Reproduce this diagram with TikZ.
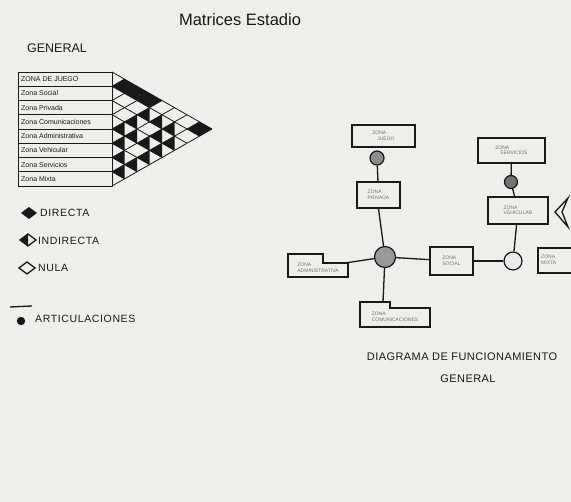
\documentclass[tikz,border=0pt]{standalone}
\usepackage{fontspec}
\setmainfont{Liberation Sans}
\definecolor{paper}{RGB}{238,238,237}
\definecolor{ink}{RGB}{25,25,25}
\begin{document}
\begin{tikzpicture}[x=1pt,y=-1pt,
  ln/.style={line width=1.3pt, draw=ink},
  grid/.style={line width=0.8pt, draw=ink},
  zbox/.style={draw=ink, line width=1.3pt, rectangle, inner sep=1pt,
    font=\fontsize{5}{5.5}\selectfont, align=left, text=black!55},
  ztext/.style={inner sep=0pt, font=\fontsize{5}{5.5}\selectfont, align=left, text=black!55},
  art/.style={circle, draw=ink, line width=1.2pt, inner sep=0pt},
  rowlab/.style={anchor=west, inner sep=0pt, font=\fontsize{7}{8}\selectfont, text=ink},
  leg/.style={anchor=west, inner sep=0pt, font=\fontsize{10.5}{11}\selectfont\addfontfeatures{LetterSpace=6}, text=ink},
  captxt/.style={inner sep=0pt, font=\fontsize{11}{12}\selectfont\addfontfeatures{LetterSpace=4}, text=ink}
]
\fill[paper] (0,0) rectangle (571,502);
\useasboundingbox (0,0) rectangle (571,502);

% title
\node[inner sep=0pt, font=\fontsize{16.5}{17}\selectfont, text=ink] (title) at (240,20) {Matrices Estadio};
\node[inner sep=0pt, font=\fontsize{12.5}{13}\selectfont, text=ink] (gen) at (57,48) {GENERAL};

% matrix table
\draw[grid] (18,72) rectangle (112,186);
\foreach \k in {1,...,7}{\draw[grid] (18,72+14.25*\k) -- (112,72+14.25*\k);}
\foreach \k/\t [count=\n] in {0/ZONA DE JUEGO,1/Zona Social,2/Zona Privada,3/Zona Comunicaciones,4/Zona Administrativa,5/Zona Vehicular,6/Zona Servicios,7/Zona Mixta}{
  \node[rowlab] (r\n) at (21,79.1+14.25*\k) {\t};
}
% filled cells
\foreach \d/\i in {1/1,2/1,3/1,7/1}{
  \pgfmathsetmacro\cx{112+12.5*\d}
  \pgfmathsetmacro\cy{72+14.25*(\i+(\d-1)/2)}
  \fill[ink] (\cx-12.5,\cy) -- (\cx,\cy-7.125) -- (\cx+12.5,\cy) -- (\cx,\cy+7.125) -- cycle;
}
\foreach \d/\i in {1/4,1/5,1/6,1/7,2/3,2/4,2/6,3/2,3/4,3/5,4/2,4/3,4/4,5/2,5/3}{
  \pgfmathsetmacro\cx{112+12.5*\d}
  \pgfmathsetmacro\cy{72+14.25*(\i+(\d-1)/2)}
  \fill[ink] (\cx-12.5,\cy) -- (\cx,\cy-7.125) -- (\cx,\cy+7.125) -- cycle;
}
\foreach \k in {0,...,8}{
  \draw[grid] (112,72+14.25*\k) -- ++(12.5*8-12.5*\k, 7.125*8-7.125*\k);
  \draw[grid] (112,72+14.25*\k) -- ++(12.5*\k, -7.125*\k);
}

% legend
\fill[ink] (21,213) -- (29,207) -- (37,213) -- (29,219) -- cycle;
\node[leg] (ld) at (40,213) {DIRECTA};
\draw[ln] (20,240) -- (28,234) -- (36,240) -- (28,246) -- cycle;
\fill[ink] (20,240) -- (28,234) -- (28,246) -- cycle;
\node[leg] (li) at (38,241) {INDIRECTA};
\draw[ln] (19,268) -- (27,262) -- (35,268) -- (27,274) -- cycle;
\node[leg] (lnul) at (38,268) {NULA};
\draw[ln] (10,307) -- (32,306);
\fill[ink] (21,321) circle (4.2);
\node[leg] (la) at (35,319) {ARTICULACIONES};

% functional diagram
\node[zbox, minimum width=63pt, minimum height=22pt] (juego) at (383.5,136) {ZONA\\\quad JUEGO};
\node[zbox, minimum width=43pt, minimum height=26pt] (privada) at (378.5,195) {ZONA\\PRIVADA};
\node[zbox, minimum width=43pt, minimum height=28pt] (social) at (451.5,261) {ZONA\\SOCIAL};
\node[zbox, minimum width=60pt, minimum height=27pt] (vehic) at (518,210.5) {ZONA\\VEHICULAR};
\node[zbox, minimum width=67pt, minimum height=25pt] (serv) at (511.5,150.5) {ZONA\\\quad SERVICIOS};

\draw[ln] (288,254) -- (323,254) -- (323,263) -- (348,263) -- (348,277) -- (288,277) -- cycle;
\node[ztext] (admin) at (318,268) {ZONA\\ADMINISTRATIVA};
\coordinate (adminR) at (345,263);
\draw[ln] (360,302) -- (390,302) -- (390,308) -- (430,308) -- (430,327) -- (360,327) -- cycle;
\node[ztext] (comun) at (395,317) {ZONA\\COMUNICACIONES};
\coordinate (comunT) at (383,302);
\draw[ln] (571,248) -- (538,248) -- (538,273) -- (571,273);
\node[ztext, anchor=west] (mixta) at (541,260) {ZONA\\MIXTA};

\node[art, fill=black!45, minimum size=14pt] (c1) at (377,158) {};
\node[art, fill=black!40, minimum size=21pt] (c0) at (385,257) {};
\node[art, fill=black!8, minimum size=18pt] (c2) at (513,261) {};
\node[art, fill=black!55, minimum size=13pt] (c3) at (511,182) {};

\draw[ln] (c1) -- (privada);
\draw[ln] (privada.south) -- (c0);
\draw[ln] (c0) -- (adminR);
\draw[ln] (c0) -- (social);
\draw[ln] (c0) -- (comunT);
\draw[ln] (social) -- (c2);
\draw[ln] (c2) -- (vehic);
\draw[ln] (serv) -- (c3);
\draw[ln] (c3) -- (vehic);

\draw[ln] (568,198) -- (555,212) -- (568,227) -- (562,212) -- cycle;

\node[captxt] (cap1) at (462,357) {DIAGRAMA DE FUNCIONAMIENTO};
\node[captxt] (cap2) at (468,379) {GENERAL};
\end{tikzpicture}
\end{document}
